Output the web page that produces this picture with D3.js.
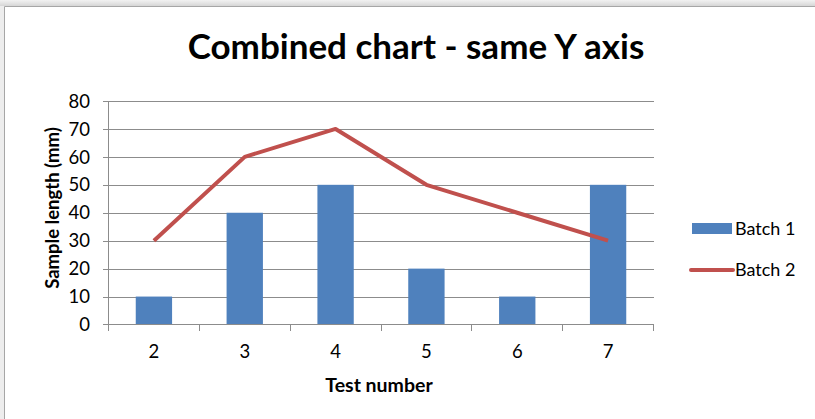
<!DOCTYPE html>
<html><head><meta charset="utf-8">
<script src="https://cdn.jsdelivr.net/npm/d3@7"></script>
<style>body{margin:0;background:#fff;overflow:hidden}</style>
</head><body>
<svg id="c" width="815" height="419"></svg>
<script>
const categories = ["2","3","4","5","6","7"];
const batch1 = [10,40,50,20,10,50];
const batch2 = [30,60,70,50,40,30];
const yTicks = [0,10,20,30,40,50,60,70,80];
const seriesNames = ["Batch 1","Batch 2"];
const title = "Combined chart - same Y axis";
const xTitle = "Test number";
const yTitle = "Sample length (mm)";

const font = "Lato, 'Open Sans', sans-serif";
const svg = d3.select("#c");
// window frame
const grad = svg.append("defs").append("linearGradient").attr("id","g").attr("x1",0).attr("y1",0).attr("x2",0).attr("y2",1);
grad.append("stop").attr("offset","0").attr("stop-color","#f2f2f2");
grad.append("stop").attr("offset","1").attr("stop-color","#d6d6d6");
svg.append("rect").attr("x",0).attr("y",0).attr("width",815).attr("height",6).attr("fill","url(#g)");
svg.append("rect").attr("x",0).attr("y",6).attr("width",4).attr("height",413).attr("fill","#ededed");
svg.append("path").attr("d","M4.5,419V6.5H815").attr("fill","none").attr("stroke","#a6a6a6").attr("stroke-width",1);

const L=108.5, R=653.5, T=101, B=324.5;
const x = d3.scaleBand().domain(categories).range([L,R]).paddingInner(0).paddingOuter(0);
const y = d3.scaleLinear().domain([0,80]).range([B,T]);

// gridlines + y ticks
const yAxis = d3.axisLeft(y).tickValues(yTicks).tickSize(-(R-L)).tickPadding(0).tickFormat("");
const gy = svg.append("g").attr("transform",`translate(${L},0)`).call(yAxis);
gy.select(".domain").remove();
gy.selectAll(".tick line").attr("stroke","#8c8c8c").attr("x1",-6).attr("shape-rendering","crispEdges");
gy.selectAll(".tick").filter(d=>d===0).remove();
svg.selectAll(".ylab").data(yTicks).enter().append("text")
  .attr("x",90).attr("y",d=>y(d)).attr("dy","0.36em").attr("text-anchor","end")
  .style("font-family",font).style("font-size","18.5px").attr("fill","#000").text(d=>d);

// bars
svg.selectAll(".bar").data(batch1).enter().append("rect")
  .attr("x",(d,i)=>x(categories[i])+x.bandwidth()*0.3)
  .attr("width",x.bandwidth()*0.4)
  .attr("y",d=>y(d)).attr("height",d=>B-y(d)).attr("fill","#4f81bd");

// axes lines
svg.append("line").attr("x1",L).attr("x2",L).attr("y1",T).attr("y2",B).attr("stroke","#8c8c8c").attr("shape-rendering","crispEdges");
svg.append("line").attr("x1",L-6).attr("x2",R).attr("y1",B).attr("y2",B).attr("stroke","#8c8c8c").attr("shape-rendering","crispEdges");
const bounds = categories.map(c=>x(c)).concat([R]);
svg.selectAll(".xt").data(bounds).enter().append("line")
  .attr("x1",d=>d).attr("x2",d=>d).attr("y1",B).attr("y2",B+6).attr("stroke","#8c8c8c").attr("shape-rendering","crispEdges");
svg.selectAll(".xlab").data(categories).enter().append("text")
  .attr("x",d=>x(d)+x.bandwidth()/2).attr("y",358).attr("text-anchor","middle")
  .style("font-family",font).style("font-size","18.5px").attr("fill","#000").text(d=>d);

// line
const line = d3.line().x((d,i)=>x(categories[i])+x.bandwidth()/2).y(d=>y(d));
svg.append("path").datum(batch2).attr("d",line).attr("fill","none").attr("stroke","#c0504d").attr("stroke-width",4).attr("stroke-linejoin","round");

// titles
svg.append("text").attr("x",416).attr("y",59).attr("text-anchor","middle")
  .style("font-family",font).style("font-weight","bold").style("font-size","35px").attr("fill","#000").text(title);
svg.append("text").attr("x",379).attr("y",392).attr("text-anchor","middle")
  .style("font-family",font).style("font-weight","bold").style("font-size","19.5px").attr("fill","#000").text(xTitle);
svg.append("text").attr("transform","translate(59,208) rotate(-90)").attr("text-anchor","middle")
  .style("font-family",font).style("font-weight","bold").style("font-size","18.5px").attr("fill","#000").text(yTitle);

// legend
const lg = svg.append("g");
lg.append("rect").attr("x",692).attr("y",223).attr("width",40).attr("height",11).attr("fill","#4f81bd");
lg.append("line").attr("x1",691).attr("x2",733).attr("y1",270).attr("y2",270).attr("stroke","#c0504d").attr("stroke-width",4).attr("stroke-linecap","round");
lg.selectAll("text").data(seriesNames).enter().append("text")
  .attr("x",735).attr("y",(d,i)=>229+i*41).attr("dy","0.36em")
  .style("font-family",font).style("font-size","18px").attr("fill","#000").text(d=>d);
</script>
</body></html>
